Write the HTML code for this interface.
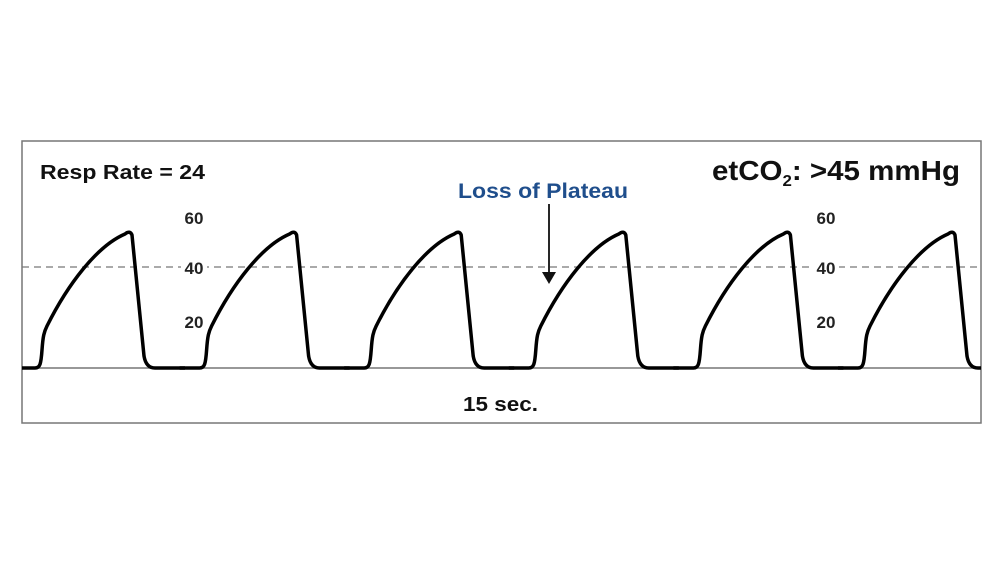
<!DOCTYPE html>
<html><head><meta charset="utf-8"><style>
html,body{margin:0;padding:0;background:#fff;}
svg{display:block;}
text{font-family:"Liberation Sans",sans-serif;font-weight:bold;}
</style></head><body>
<svg width="1000" height="563" viewBox="0 0 1000 563" xmlns="http://www.w3.org/2000/svg">
<defs>
<clipPath id="c"><rect x="22" y="141" width="959" height="282"/></clipPath>
<path id="w" d="M -20 368 L 0 368 C 5 368 6 364 7 350 C 8 336 9 332 12 326 C 33 284 62 246 90 234 Q 95 230 97 235 L 109 356 Q 111 368 120 368 L 150 368" fill="none" stroke="#000" stroke-width="3.5" stroke-linejoin="round"/>
</defs>
<rect x="22" y="141" width="959" height="282" fill="#fff" stroke="#777" stroke-width="1.5"/>
<line x1="22" y1="368" x2="981" y2="368" stroke="#777" stroke-width="1.5"/>
<line x1="22" y1="267" x2="981" y2="267" stroke="#777" stroke-width="1.3" stroke-dasharray="7,5"/>
<g clip-path="url(#c)">
<use href="#w" x="35"/>
<use href="#w" x="199.6"/>
<use href="#w" x="364.2"/>
<use href="#w" x="528.8"/>
<use href="#w" x="693.4"/>
<use href="#w" x="858"/>
</g>
<rect x="181" y="259" width="26" height="16" fill="#fff"/>
<rect x="813" y="259" width="26" height="16" fill="#fff"/>
<text x="40" y="179" font-size="20" fill="#111" textLength="165" lengthAdjust="spacingAndGlyphs">Resp Rate = 24</text>
<text x="194" y="224" font-size="17" fill="#222" text-anchor="middle">60</text>
<text x="194" y="274" font-size="17" fill="#222" text-anchor="middle">40</text>
<text x="194" y="328" font-size="17" fill="#222" text-anchor="middle">20</text>
<text x="826" y="224" font-size="17" fill="#222" text-anchor="middle">60</text>
<text x="826" y="274" font-size="17" fill="#222" text-anchor="middle">40</text>
<text x="826" y="328" font-size="17" fill="#222" text-anchor="middle">20</text>
<text x="458" y="198" font-size="21" fill="#1f4e8c" textLength="170" lengthAdjust="spacingAndGlyphs">Loss of Plateau</text>
<line x1="549" y1="204" x2="549" y2="274" stroke="#111" stroke-width="1.8"/>
<polygon points="542,272 556,272 549,284" fill="#111"/>
<text x="712" y="180" font-size="28" fill="#111" textLength="248" lengthAdjust="spacingAndGlyphs">etCO<tspan font-size="16" dy="6">2</tspan><tspan dy="-6">: &gt;45 mmHg</tspan></text>
<text x="463" y="411" font-size="20" fill="#111" textLength="75" lengthAdjust="spacingAndGlyphs">15 sec.</text>
</svg>
</body></html>
